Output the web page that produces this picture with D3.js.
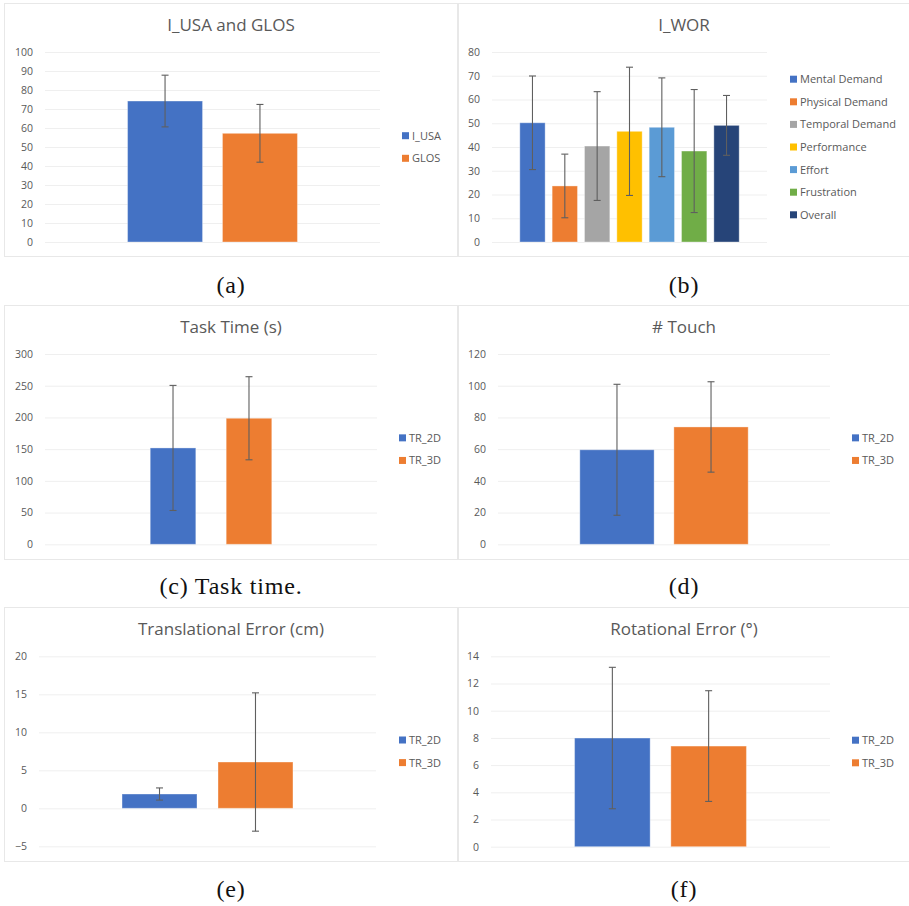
<!DOCTYPE html>
<html>
<head>
<meta charset="utf-8">
<script src="https://cdn.jsdelivr.net/npm/d3@7"></script>
<style>
  body { margin: 0; background: #fff; }
  .tick-label text { font-family: "Open Sans", sans-serif; font-size: 10.5px; fill: #595959; }
</style>
</head>
<body>
<div class="figure"></div>
<script>
// values (mean and error bar half-length)
var officeColors = ["#4472C4", "#ED7D31", "#A5A5A5", "#FFC000", "#5B9BD5", "#70AD47", "#264478"];

var usaGlosSeries = ["I_USA", "GLOS"];
var usaGlosMeans = [74.2, 57.2];
var usaGlosErr = [13.6, 15.2];
var usaGlosTicks = [0, 10, 20, 30, 40, 50, 60, 70, 80, 90, 100];

var worSeries = ["Mental Demand", "Physical Demand", "Temporal Demand", "Performance", "Effort", "Frustration", "Overall"];
var worMeans = [50.2, 23.6, 40.4, 46.6, 48.3, 38.3, 49.1];
var worErr = [19.7, 13.4, 22.9, 27.0, 20.8, 25.9, 12.6];
var worTicks = [0, 10, 20, 30, 40, 50, 60, 70, 80];

var trSeries = ["TR_2D", "TR_3D"];

var taskTimeMeans = [151.9, 198.7];
var taskTimeErr = [98.6, 65.5];
var taskTimeTicks = [0, 50, 100, 150, 200, 250, 300];

var touchMeans = [59.6, 74.0];
var touchErr = [41.3, 28.5];
var touchTicks = [0, 20, 40, 60, 80, 100, 120];

var transErrMeans = [1.88, 6.09];
var transErrErr = [0.8, 9.1];
var transErrTicks = [-5, 0, 5, 10, 15, 20];

var rotErrMeans = [7.99, 7.40];
var rotErrErr = [5.2, 4.07];
var rotErrTicks = [0, 2, 4, 6, 8, 10, 12, 14];

var panelTitles = ["I_USA and GLOS", "I_WOR", "Task Time (s)", "# Touch", "Translational Error (cm)", "Rotational Error (\u00B0)"];
var captions = ["(a)", "(b)", "(c) Task time.", "(d)", "(e)", "(f)"];

var svgWidth = 909;
var svgHeight = 906;

var svg = d3.select(".figure")
            .append("svg")
            .attr("width", svgWidth)
            .attr("height", svgHeight);

// layout of the six panels
var panels = [
  {series: usaGlosSeries, means: usaGlosMeans, err: usaGlosErr, ticks: usaGlosTicks,
   frame: [4, 3, 457, 256], plot: [45, 52, 380, 242], padIn: 0.21, padOut: 0.87, legendX: 402, cx: 231, capY: 293},
  {series: worSeries, means: worMeans, err: worErr, ticks: worTicks,
   frame: [458, 3, 912, 256], plot: [492, 52, 767, 242], padIn: 0.217, padOut: 0.86, legendX: 790, cx: 684, capY: 293},
  {series: trSeries, means: taskTimeMeans, err: taskTimeErr, ticks: taskTimeTicks,
   frame: [4, 305, 457, 559], plot: [45, 354, 377, 544.3], padIn: 0.4, padOut: 1.385, legendX: 399, cx: 231, capY: 594},
  {series: trSeries, means: touchMeans, err: touchErr, ticks: touchTicks,
   frame: [458, 305, 912, 559], plot: [498, 354, 830, 544.3], padIn: 0.21, padOut: 0.87, legendX: 852, cx: 684, capY: 594},
  {series: trSeries, means: transErrMeans, err: transErrErr, ticks: transErrTicks,
   frame: [4, 607, 457, 861], plot: [39, 656.3, 376, 846.3], padIn: 0.219, padOut: 0.865, legendX: 399, cx: 231, capY: 897},
  {series: trSeries, means: rotErrMeans, err: rotErrErr, ticks: rotErrTicks,
   frame: [458, 607, 912, 861], plot: [491, 656.3, 830, 846.7], padIn: 0.215, padOut: 0.868, legendX: 852, cx: 684, capY: 897}
];

panels.forEach(function(p, i) {
  var g = svg.append("g");
  var left = p.plot[0], top = p.plot[1], right = p.plot[2], bottom = p.plot[3];

  // chart area border
  g.append("rect")
    .attr("x", p.frame[0] + 0.5)
    .attr("y", p.frame[1] + 0.5)
    .attr("width", p.frame[2] - p.frame[0])
    .attr("height", p.frame[3] - p.frame[1])
    .attr("fill", "#fff")
    .attr("stroke", "#e8e8e8")
    .attr("stroke-width", 1);

  g.append("text")
    .text(panelTitles[i])
    .attr("x", p.cx)
    .attr("y", p.frame[1] + 27.5)
    .attr("text-anchor", "middle")
    .style("font-family", "'Open Sans', sans-serif")
    .style("font-size", "17px")
    .style("fill", "#595959");

  var y = d3.scaleLinear()
            .domain([p.ticks[0], p.ticks[p.ticks.length - 1]])
            .range([bottom, top]);

  var x = d3.scaleBand()
            .domain(p.series)
            .range([left, right])
            .paddingInner(p.padIn)
            .paddingOuter(p.padOut);

  var axis = g.append("g")
    .attr("class", "tick-label")
    .attr("transform", "translate(" + left + ",0)")
    .call(d3.axisLeft(y)
      .tickValues(p.ticks)
      .tickSize(-(right - left))
      .tickPadding(12)
      .tickFormat(d3.format("d")));
  axis.select(".domain").remove();
  axis.selectAll(".tick line").attr("stroke", "#efefef");

  var rows = p.series.map(function(name, k) {
    return {name: name, mean: p.means[k], err: p.err[k], color: officeColors[k]};
  });

  g.selectAll("rect.bar")
    .data(rows)
    .enter()
    .append("rect")
    .attr("class", "bar")
    .attr("x", function(d) { return x(d.name); })
    .attr("width", x.bandwidth())
    .attr("y", function(d) { return y(Math.max(0, d.mean)); })
    .attr("height", function(d) { return Math.abs(y(d.mean) - y(0)); })
    .attr("fill", function(d) { return d.color; })
    .attr("stroke", "#ffffff")
    .attr("stroke-opacity", 0.35)
    .attr("stroke-width", 1);

  // error bars
  var cap = 3.5;
  var eb = g.selectAll("g.err")
    .data(rows)
    .enter()
    .append("g")
    .attr("class", "err")
    .attr("stroke", "#5f5f5f")
    .attr("stroke-width", 1.1);
  eb.append("line")
    .attr("x1", function(d) { return x(d.name) + x.bandwidth() / 2; })
    .attr("x2", function(d) { return x(d.name) + x.bandwidth() / 2; })
    .attr("y1", function(d) { return y(d.mean + d.err); })
    .attr("y2", function(d) { return y(d.mean - d.err); });
  eb.append("line")
    .attr("x1", function(d) { return x(d.name) + x.bandwidth() / 2 - cap; })
    .attr("x2", function(d) { return x(d.name) + x.bandwidth() / 2 + cap; })
    .attr("y1", function(d) { return y(d.mean + d.err); })
    .attr("y2", function(d) { return y(d.mean + d.err); });
  eb.append("line")
    .attr("x1", function(d) { return x(d.name) + x.bandwidth() / 2 - cap; })
    .attr("x2", function(d) { return x(d.name) + x.bandwidth() / 2 + cap; })
    .attr("y1", function(d) { return y(d.mean - d.err); })
    .attr("y2", function(d) { return y(d.mean - d.err); });

  // legend, centred on the plot
  var rowGap = 22.6;
  var legendTop = (top + bottom) / 2 - (rows.length - 1) * rowGap / 2;
  var item = g.selectAll("g.legend")
    .data(rows)
    .enter()
    .append("g")
    .attr("class", "legend")
    .attr("transform", function(d, k) {
      return "translate(" + p.legendX + "," + (legendTop + k * rowGap) + ")";
    });
  item.append("rect")
    .attr("x", 0)
    .attr("y", -3.5)
    .attr("width", 7)
    .attr("height", 7)
    .attr("fill", function(d) { return d.color; });
  item.append("text")
    .text(function(d) { return d.name; })
    .attr("x", 10)
    .attr("dy", "0.36em")
    .style("font-family", "'Open Sans', sans-serif")
    .style("font-size", "11px")
    .style("fill", "#595959");

  // sub-figure caption
  svg.append("text")
    .text(captions[i])
    .attr("x", p.cx)
    .attr("y", p.capY)
    .attr("text-anchor", "middle")
    .style("font-family", "'Liberation Serif', serif")
    .style("font-size", "24px")
    .style("letter-spacing", "0.8px")
    .style("fill", "#111");
});
</script>
</body>
</html>
